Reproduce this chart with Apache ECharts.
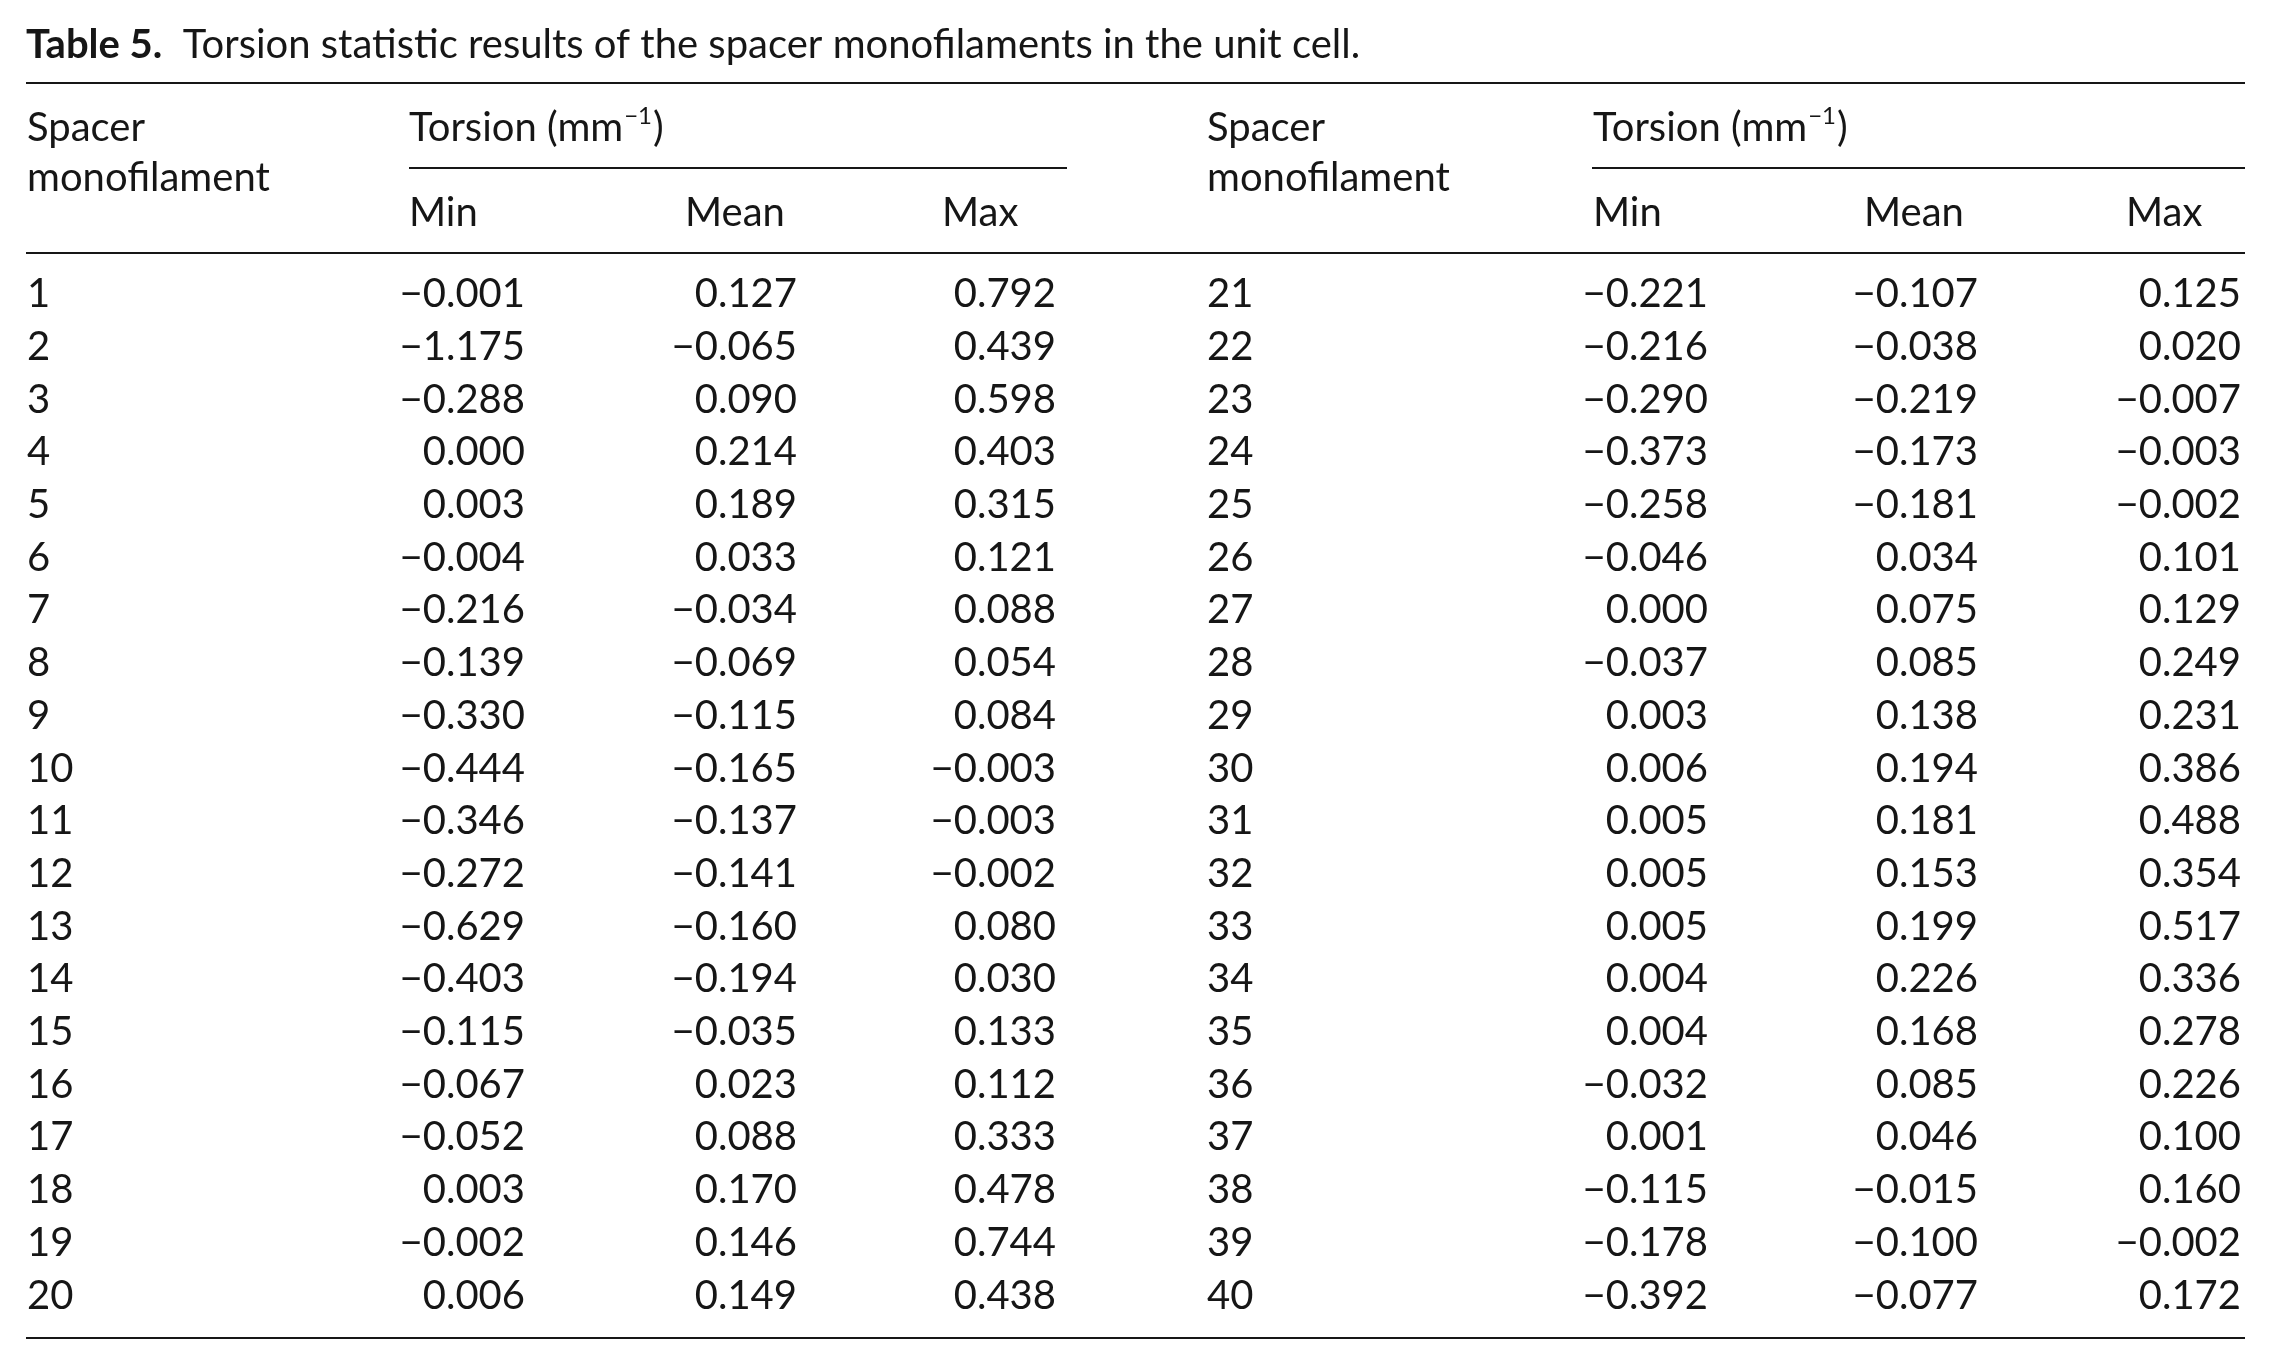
<!DOCTYPE html>
<html>
<head>
<meta charset="utf-8">
<title>Table 5</title>
<script src="https://cdn.jsdelivr.net/npm/echarts@6/dist/echarts.min.js"></script>
<style>
  html, body { margin: 0; padding: 0; background: #fff; }
  #main { width: 2271px; height: 1365px; }
</style>
</head>
<body>
<div id="main"></div>
<script>
// row labels and torsion values (mm^-1), left half of the table
var ids1 = [1, 2, 3, 4, 5, 6, 7, 8, 9, 10, 11, 12, 13, 14, 15, 16, 17, 18, 19, 20];
var min1 = [-0.001, -1.175, -0.288, 0.000, 0.003, -0.004, -0.216, -0.139, -0.330, -0.444,
            -0.346, -0.272, -0.629, -0.403, -0.115, -0.067, -0.052, 0.003, -0.002, 0.006];
var mean1 = [0.127, -0.065, 0.090, 0.214, 0.189, 0.033, -0.034, -0.069, -0.115, -0.165,
             -0.137, -0.141, -0.160, -0.194, -0.035, 0.023, 0.088, 0.170, 0.146, 0.149];
var max1 = [0.792, 0.439, 0.598, 0.403, 0.315, 0.121, 0.088, 0.054, 0.084, -0.003,
            -0.003, -0.002, 0.080, 0.030, 0.133, 0.112, 0.333, 0.478, 0.744, 0.438];

// right half of the table
var ids2 = [21, 22, 23, 24, 25, 26, 27, 28, 29, 30, 31, 32, 33, 34, 35, 36, 37, 38, 39, 40];
var min2 = [-0.221, -0.216, -0.290, -0.373, -0.258, -0.046, 0.000, -0.037, 0.003, 0.006,
            0.005, 0.005, 0.005, 0.004, 0.004, -0.032, 0.001, -0.115, -0.178, -0.392];
var mean2 = [-0.107, -0.038, -0.219, -0.173, -0.181, 0.034, 0.075, 0.085, 0.138, 0.194,
             0.181, 0.153, 0.199, 0.226, 0.168, 0.085, 0.046, -0.015, -0.100, -0.077];
var max2 = [0.125, 0.020, -0.007, -0.003, -0.002, 0.101, 0.129, 0.249, 0.231, 0.386,
            0.488, 0.354, 0.517, 0.336, 0.278, 0.226, 0.100, 0.160, -0.002, 0.172];

var titleBold = 'Table 5.';
var titleText = 'Torsion statistic results of the spacer monofilaments in the unit cell.';
var colHeads = ['Min', 'Mean', 'Max'];

var FONT = 'Lato, "Open Sans", sans-serif';
var INK = '#161616';
var FS = 40;

// column anchors inside each panel (x axis units = px)
var cols1 = [0, 498, 770, 1029];
var cols2 = [0, 501, 771, 1034];

function fmt(v) {
  return v.toFixed(3).replace('-', '\u2212');
}

function buildData(ids, mins, means, maxs) {
  var out = [];
  for (var i = 0; i < ids.length; i++) {
    out.push([0, i, ids[i], mins[i], means[i], maxs[i]]);
  }
  return out;
}

function rowRenderer(cols) {
  return function (params, api) {
    var idx = api.value(1);
    var y = api.coord([0, idx])[1];
    var kids = [{
      type: 'text',
      style: {
        x: api.coord([cols[0], idx])[0], y: y,
        text: String(api.value(2)),
        align: 'left', verticalAlign: 'middle',
        fontFamily: FONT, fontSize: FS, fill: INK
      }
    }];
    for (var k = 1; k <= 3; k++) {
      kids.push({
        type: 'text',
        style: {
          x: api.coord([cols[k], idx])[0], y: y,
          text: fmt(api.value(2 + k)),
          align: 'right', verticalAlign: 'middle',
          fontFamily: FONT, fontSize: FS, fill: INK
        }
      });
    }
    return { type: 'group', children: kids };
  };
}

function headText(x, y, txt) {
  return {
    type: 'text', left: x, top: y,
    style: { text: txt, fontFamily: FONT, fontSize: FS, fill: INK, verticalAlign: 'top' }
  };
}

function torsionHead(x, y) {
  return {
    type: 'text', left: x, top: y,
    style: {
      text: '{t|Torsion (mm}{s|\u22121}{t|)}',
      rich: {
        t: { fontFamily: FONT, fontSize: FS, fill: INK, verticalAlign: 'bottom' },
        s: { fontFamily: FONT, fontSize: 24, fill: INK, verticalAlign: 'bottom', padding: [0, 1, 20, 1] }
      }
    }
  };
}

function rule(x1, x2, y, w) {
  return {
    type: 'line', z: 10,
    shape: { x1: x1, y1: y, x2: x2, y2: y },
    style: { stroke: INK, lineWidth: w || 2 }
  };
}

var chart = echarts.init(document.getElementById('main'));

var yCat1 = ids1.map(String);
var yCat2 = ids2.map(String);

var graphics = [
  {
    type: 'text', left: 26, top: 25,
    style: {
      text: '{b|' + titleBold + '}{n|  ' + titleText + '}',
      rich: {
        b: { fontFamily: FONT, fontSize: 40, fontWeight: 'bold', fill: INK },
        n: { fontFamily: FONT, fontSize: 40, fill: INK }
      }
    }
  },
  rule(26, 2245, 83),
  rule(409, 1067, 168),
  rule(1592, 2245, 168),
  rule(26, 2245, 253),
  rule(26, 2245, 1338),
  headText(27, 108, 'Spacer'),
  headText(27, 158, 'monofilament'),
  headText(1207, 108, 'Spacer'),
  headText(1207, 158, 'monofilament'),
  torsionHead(409, 104),
  torsionHead(1593, 104),
  headText(409, 193, colHeads[0]),
  headText(685, 193, colHeads[1]),
  headText(942, 193, colHeads[2]),
  headText(1593, 193, colHeads[0]),
  headText(1864, 193, colHeads[1]),
  headText(2126, 193, colHeads[2])
];

chart.setOption({
  backgroundColor: '#ffffff',
  animation: false,
  grid: [
    { left: 27, top: 268, width: 1034, height: 1054 },
    { left: 1207, top: 268, width: 1034, height: 1054 }
  ],
  xAxis: [
    { type: 'value', gridIndex: 0, min: 0, max: 1034, show: false },
    { type: 'value', gridIndex: 1, min: 0, max: 1034, show: false }
  ],
  yAxis: [
    { type: 'category', gridIndex: 0, data: yCat1, inverse: true, show: false },
    { type: 'category', gridIndex: 1, data: yCat2, inverse: true, show: false }
  ],
  graphic: graphics,
  series: [
    {
      type: 'custom', name: 'left', xAxisIndex: 0, yAxisIndex: 0,
      encode: { x: 0, y: 1 },
      renderItem: rowRenderer(cols1),
      data: buildData(ids1, min1, mean1, max1)
    },
    {
      type: 'custom', name: 'right', xAxisIndex: 1, yAxisIndex: 1,
      encode: { x: 0, y: 1 },
      renderItem: rowRenderer(cols2),
      data: buildData(ids2, min2, mean2, max2)
    }
  ]
});
</script>
</body>
</html>
